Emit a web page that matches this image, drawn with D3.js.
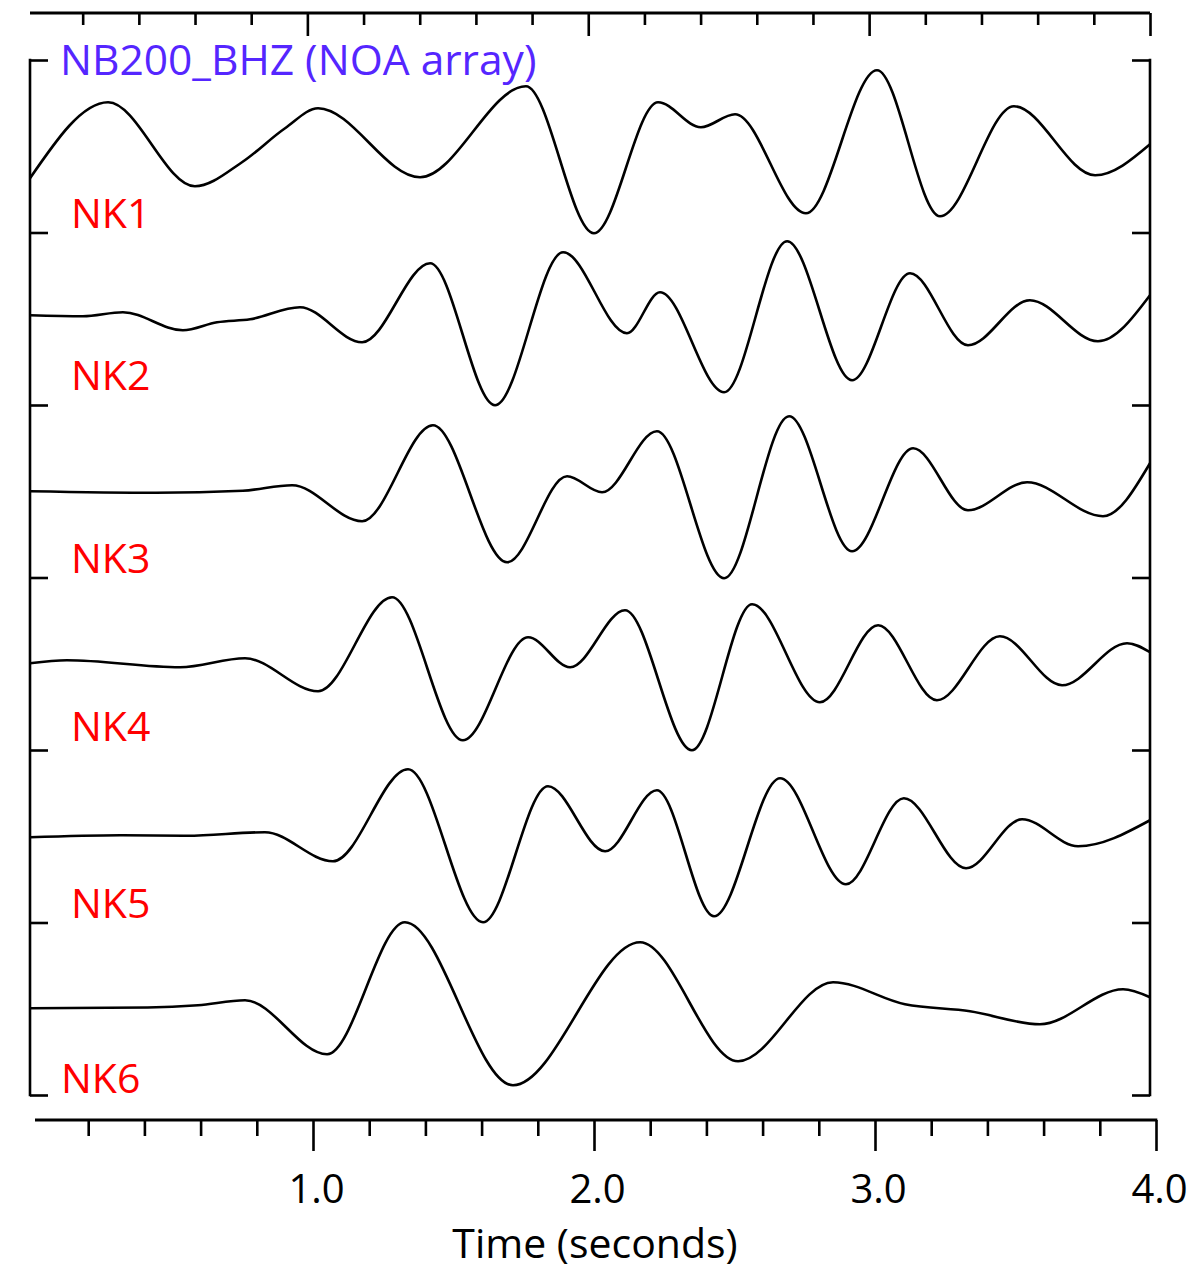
<!DOCTYPE html>
<html>
<head>
<meta charset="utf-8">
<script src="https://cdn.jsdelivr.net/npm/d3@7"></script>
<style>
  html, body { margin: 0; padding: 0; background: #fff; }
  svg { display: block; }
  text { font-family: "Open Sans", "Noto Sans", sans-serif; }
</style>
</head>
<body>
<svg id="chart" width="1196" height="1270"></svg>
<script>
// Station names, top to bottom
const stations = ["NK1", "NK2", "NK3", "NK4", "NK5", "NK6"];

// Vertical-component traces: [time (s), amplitude (counts)]
const nk1 = [[0.000,-32],[0.279,44],[0.589,-40],[0.757,-16],[0.911,18],[1.029,38],[1.393,-31],[1.771,60],[2.014,-87],[2.243,44],[2.396,19],[2.518,32],[2.771,-67],[3.025,76],[3.250,-70],[3.514,40],[3.804,-29],[4.000,2]];
const nk2 = [[0.000,3.5],[0.189,2.5],[0.332,6.5],[0.546,-11.5],[0.668,-3.5],[0.786,-0.5],[0.964,11.5],[1.186,-23.5],[1.429,55.5],[1.661,-86.5],[1.904,66.5],[2.132,-14.5],[2.250,26.5],[2.479,-73.5],[2.704,77.5],[2.936,-61.5],[3.143,45.5],[3.350,-26.5],[3.571,18.5],[3.814,-22.5],[4.000,23.5]];
const nk3 = [[0.000,0],[0.450,-1.5],[0.760,0.5],[0.936,6],[1.186,-30],[1.439,66],[1.704,-71],[1.918,15],[2.043,-1],[2.239,60],[2.479,-87],[2.711,75],[2.936,-60],[3.154,43],[3.350,-19],[3.561,9],[3.832,-25],[4.000,28]];
const nk4 = [[0.000,0.5],[0.132,3.5],[0.536,-3.5],[0.768,5.5],[1.029,-27.5],[1.293,66.5],[1.546,-76.5],[1.779,26.5],[1.929,-3.5],[2.125,53.5],[2.364,-86.5],[2.579,59.5],[2.821,-38.5],[3.029,38.5],[3.239,-36.5],[3.464,27.5],[3.686,-21.5],[3.918,20.5],[4.000,11.5]];
const nk5 = [[0.000,-1],[0.321,1],[0.560,0.5],[0.839,4],[1.082,-25],[1.350,67],[1.618,-86],[1.850,50],[2.054,-15],[2.239,46],[2.443,-80],[2.679,58],[2.914,-48],[3.121,38],[3.343,-32],[3.543,17],[3.743,-10],[4.000,16]];
const nk6 = [[0.000,0.5],[0.420,1.2],[0.600,3.5],[0.768,8.5],[1.061,-45.5],[1.339,86.5],[1.725,-76.5],[2.179,66.5],[2.529,-52.5],[2.868,26.5],[3.125,4.5],[3.357,-2.5],[3.607,-15.5],[3.904,19.5],[4.000,11.5]];
const traces = [nk1, nk2, nk3, nk4, nk5, nk6];

// Time axis ticks
const majorTicks = [1, 2, 3, 4];
const minorTicks = [0.2, 0.4, 0.6, 0.8, 1.2, 1.4, 1.6, 1.8, 2.2, 2.4, 2.6, 2.8, 3.2, 3.4, 3.6, 3.8];
const tickLabels = ["1.0", "2.0", "3.0", "4.0"];

const titleText = "NB200_BHZ (NOA array)";
const xTitleText = "Time (seconds)";

// ---- layout ----
const frame = { left: 30, right: 1150, top: 60, bottom: 1095 };
const bottomAxisY = 1120;
const topAxisY = 13;
const halfBand = (frame.bottom - frame.top) / stations.length / 2;
const labelDrop = [5, 15, 5, 9, 5, 2];
const labelX = [71, 71, 71, 71, 71, 61];

const svg = d3.select("#chart");

const x = d3.scaleLinear().domain([0, 4]).range([frame.left, frame.right]);
const xTop = d3.scaleLinear().domain([0, 4]).range([26.5, frame.right]);
const xBottom = d3.scaleLinear().domain([0, 4]).range([32, 1156]);
const band = d3.scaleLinear().domain([0, stations.length]).range([frame.top, frame.bottom]);

const axisStroke = 2.6;

function styleAxis(g) {
  g.selectAll("path, line").attr("stroke", "#000").attr("stroke-width", axisStroke);
  g.select(".domain").remove();
}

// Top time axis (edge of the panel above)
const topG = svg.append("g").attr("transform", `translate(0,${topAxisY})`);
topG.append("g").call(d3.axisBottom(xTop).tickValues(minorTicks).tickSize(12).tickFormat("")).call(styleAxis);
topG.append("g").call(d3.axisBottom(xTop).tickValues(majorTicks).tickSize(23).tickFormat("")).call(styleAxis);
topG.append("line").attr("x1", frame.left).attr("x2", frame.right).attr("y1", 0).attr("y2", 0)
  .attr("stroke", "#000").attr("stroke-width", 3);

// Left and right frame axes with station ticks
const bandTicks = d3.range(0, stations.length + 1);
const leftAxis = d3.axisRight(band).tickValues(bandTicks).tickSize(18).tickFormat("").tickSizeOuter(0);
const rightAxis = d3.axisLeft(band).tickValues(bandTicks).tickSize(18).tickFormat("").tickSizeOuter(0);
svg.append("g").attr("transform", `translate(${frame.left},0)`).call(leftAxis).call(styleAxis);
svg.append("g").attr("transform", `translate(${frame.right},0)`).call(rightAxis).call(styleAxis);
svg.append("line").attr("x1", frame.left).attr("x2", frame.left).attr("y1", frame.top - 1.3).attr("y2", frame.bottom + 1.3)
  .attr("stroke", "#000").attr("stroke-width", axisStroke);
svg.append("line").attr("x1", frame.right).attr("x2", frame.right).attr("y1", frame.top - 1.3).attr("y2", frame.bottom + 1.3)
  .attr("stroke", "#000").attr("stroke-width", axisStroke);

// Bottom time axis
const botG = svg.append("g").attr("transform", `translate(0,${bottomAxisY})`);
botG.append("g").call(d3.axisBottom(xBottom).tickValues(minorTicks).tickSize(16).tickFormat("")).call(styleAxis);
const majorG = botG.append("g").call(d3.axisBottom(xBottom).tickValues(majorTicks).tickSize(31).tickFormat((d, i) => tickLabels[i])).call(styleAxis);
majorG.selectAll(".tick text")
  .attr("y", 83).attr("dy", null).attr("dx", 3)
  .attr("fill", "#000")
  .style("font-family", '"Open Sans", sans-serif')
  .style("font-size", "40px");
botG.append("line").attr("x1", 35).attr("x2", xBottom(4) + 1.3).attr("y1", 0).attr("y2", 0)
  .attr("stroke", "#000").attr("stroke-width", 3);

svg.append("text")
  .attr("x", 595).attr("y", 1258)
  .attr("text-anchor", "middle")
  .style("font-size", "41px")
  .attr("fill", "#000")
  .text(xTitleText);

// Traces
const line = d3.line().curve(d3.curveMonotoneX);
traces.forEach((tr, k) => {
  const y = d3.scaleLinear().domain([-halfBand, halfBand]).range([band(k + 1), band(k)]);
  line.x(d => x(d[0])).y(d => y(d[1]));
  svg.append("path")
    .datum(tr)
    .attr("d", line)
    .attr("fill", "none")
    .attr("stroke", "#000")
    .attr("stroke-width", 2.6)
    .attr("stroke-linejoin", "round");
});

// Station labels
svg.selectAll("text.station")
  .data(stations)
  .join("text")
  .attr("class", "station")
  .attr("x", (d, i) => labelX[i])
  .attr("y", (d, i) => band(i + 1) - labelDrop[i])
  .attr("fill", "#ff0000")
  .style("font-size", "41px")
  .text(d => d);

// Array title
svg.append("text")
  .attr("x", 60).attr("y", 75)
  .attr("fill", "#5526ff")
  .style("font-size", "42.5px")
  .text(titleText);
</script>
</body>
</html>
